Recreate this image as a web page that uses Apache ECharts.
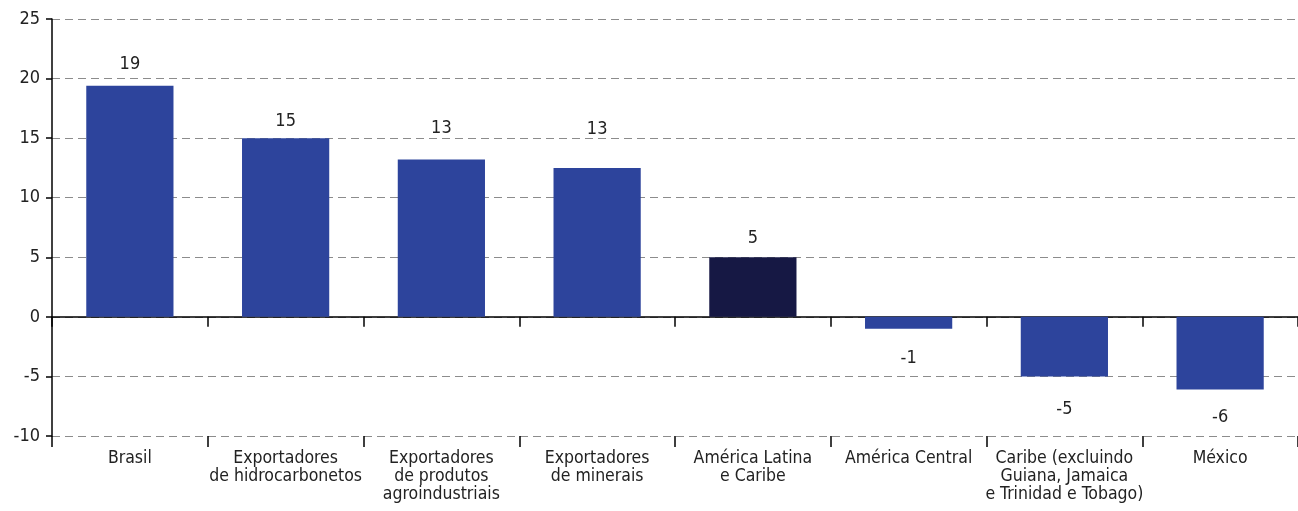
<!DOCTYPE html>
<html>
<head>
<meta charset="utf-8">
<script src="https://cdn.jsdelivr.net/npm/echarts@6/dist/echarts.min.js"></script>
<style>
  html, body { margin: 0; padding: 0; background: #fff; }
  #chart { width: 1298px; height: 511px; }
</style>
</head>
<body>
<div id="chart"></div>
<script>
// Categories and values (percent)
const categories = [
  'Brasil',
  'Exportadores\nde hidrocarbonetos',
  'Exportadores\nde produtos\nagroindustriais',
  'Exportadores\nde minerais',
  'América Latina\ne Caribe',
  'América Central',
  'Caribe (excluindo\nGuiana, Jamaica\ne Trinidad e Tobago)',
  'México'
];
const values = [19.4, 15.0, 13.2, 12.5, 5.0, -1.0, -5.0, -6.1];
const highlightIndex = 4;
const yTicks = { min: -10, max: 25, interval: 5 };

// gap between each bar end and its value label (px)
const labelGap = [12, 8, 22, 30, 10, 21, 24, 19];

const FONT = "'Liberation Sans Narrow', 'DejaVu Sans Condensed', 'Roboto', sans-serif";
const BAR = '#2d449c';
const BAR_DARK = '#161844';
const TEXT = '#222';

const chart = echarts.init(document.getElementById('chart'), null, { renderer: 'canvas' });

chart.setOption({
  animation: false,
  grid: { left: 52, right: 0, top: 19, bottom: 75, containLabel: false },
  xAxis: [
    {
      // axis drawn along zero with downward ticks
      type: 'category',
      data: categories,
      position: 'bottom',
      axisLine: { onZero: true, lineStyle: { color: '#000', width: 1.5 } },
      axisTick: { show: true, length: 10, lineStyle: { color: '#000', width: 1.5 } },
      axisLabel: { show: false },
      splitLine: { show: false }
    },
    {
      // category labels and ticks under the plot
      type: 'category',
      data: categories,
      position: 'bottom',
      axisLine: { show: false, onZero: false },
      axisTick: { show: true, length: 11, lineStyle: { color: '#000', width: 1.5 } },
      axisLabel: {
        show: true, interval: 0, margin: 13,
        fontFamily: FONT, fontSize: 17.5, color: TEXT, lineHeight: 18
      },
      splitLine: { show: false }
    }
  ],
  yAxis: {
    type: 'value',
    min: yTicks.min, max: yTicks.max, interval: yTicks.interval,
    axisLine: { show: true, lineStyle: { color: '#000', width: 1.5 } },
    axisTick: { show: true, length: 6, lineStyle: { color: '#000', width: 1.5 } },
    axisLabel: { fontFamily: FONT, fontSize: 18, color: TEXT, margin: 12 },
    splitLine: { show: true, lineStyle: { color: '#8c8c8c', type: [8, 5], width: 1 } }
  },
  series: [{
    type: 'bar',
    xAxisIndex: 0,
    data: values.map((v, i) => ({
      value: v,
      itemStyle: { color: i === highlightIndex ? BAR_DARK : BAR },
      label: { distance: labelGap[i] }
    })),
    barWidth: '56%',
    label: {
      show: true,
      position: 'outside',
      fontFamily: FONT, fontSize: 18, color: TEXT,
      formatter: p => String(Math.round(p.value))
    }
  }]
});
</script>
</body>
</html>
